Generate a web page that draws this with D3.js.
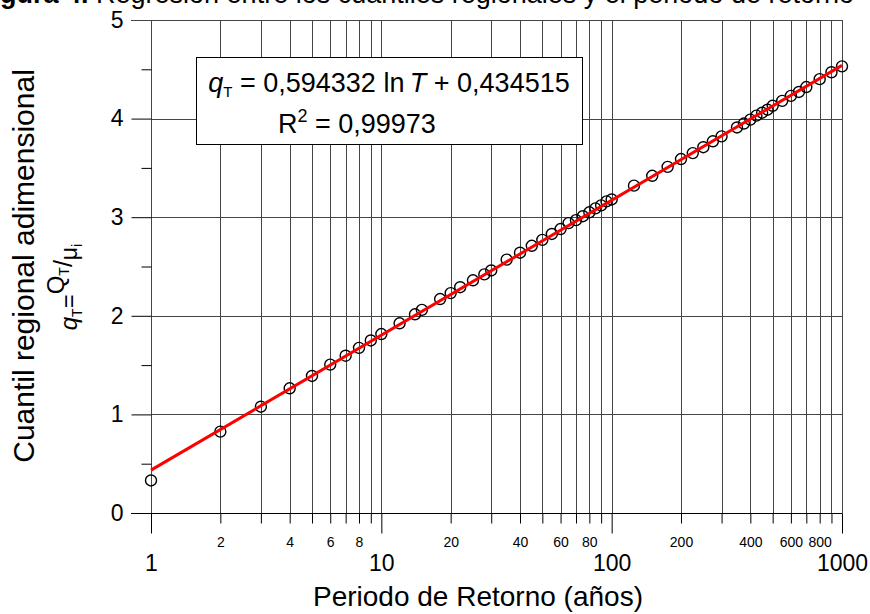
<!DOCTYPE html>
<html>
<head>
<meta charset="utf-8">
<script src="https://cdn.jsdelivr.net/npm/d3@7"></script>
<style>
  body { margin: 0; background: #fff; }
  svg { display: block; font-family: "Liberation Sans", Arial, sans-serif; }
</style>
</head>
<body>
<div id="chart"></div>
<script>
// return periods (years) and regional dimensionless quantiles
const periods = [1, 2, 3, 4, 5, 6, 7, 8, 9, 10, 12, 14, 15, 18, 20, 22, 25, 28, 30, 35,
  40, 45, 50, 55, 60, 65, 70, 75, 80, 85, 90, 95, 100, 125, 150, 175, 200, 225, 250, 275,
  300, 350, 375, 400, 425, 450, 475, 500, 550, 600, 650, 700, 800, 900, 1000];
const quantiles = [0.33, 0.825, 1.078, 1.265, 1.39, 1.505, 1.595, 1.675, 1.75, 1.815, 1.924, 2.015, 2.06, 2.17, 2.23, 2.29, 2.36, 2.42, 2.46, 2.57,
  2.64, 2.71, 2.77, 2.83, 2.88, 2.94, 2.97, 3.01, 3.05, 3.09, 3.12, 3.16, 3.18, 3.32, 3.42, 3.51, 3.59, 3.65, 3.71, 3.77,
  3.82, 3.91, 3.95, 3.99, 4.03, 4.06, 4.09, 4.13, 4.18, 4.23, 4.27, 4.32, 4.40, 4.47, 4.53];

// regression line end points
const fitT = [1, 1000];
const fitQ = [0.4345, 4.54];

const majorYears = [1, 10, 100, 1000];
const minorYears = [2, 3, 4, 5, 6, 7, 8, 9, 20, 30, 40, 50, 60, 70, 80, 90,
  200, 300, 400, 500, 600, 700, 800, 900];
const minorLabels = [2, 4, 6, 8, 20, 40, 60, 80, 200, 400, 600, 800];
const yMajor = [0, 1, 2, 3, 4, 5];
const yMinor = [0.5, 1.5, 2.5, 3.5, 4.5];

const width = 870, height = 614;
const plotL = 151, plotR = 842, plotT = 20, plotB = 513;

const svg = d3.select('#chart').append('svg')
  .attr('width', width)
  .attr('height', height);

const x = d3.scaleLog().domain([1, 1000]).range([plotL, plotR]);
const y = d3.scaleLinear().domain([0, 5]).range([plotB, plotT]);

// caption, cut off at the top as in the original scan
svg.append('text')
  .attr('x', -24)
  .attr('y', 3)
  .style('font-size', '27px')
  .call(t => {
    t.append('tspan').style('font-weight', 'bold').text('Figura 4.');
    t.append('tspan').text(' Regresión entre los cuantiles regionales y el periodo de retorno');
  });

// grid
const grid = svg.append('g').attr('stroke', '#454545').attr('stroke-width', 1);
grid.selectAll('.vg')
  .data(minorYears.concat(majorYears))
  .join('line')
  .attr('x1', d => Math.round(x(d)) + 0.5)
  .attr('x2', d => Math.round(x(d)) + 0.5)
  .attr('y1', plotT)
  .attr('y2', plotB);
grid.selectAll('.hg')
  .data([1, 2, 3, 4])
  .join('line')
  .attr('x1', plotL)
  .attr('x2', plotR)
  .attr('y1', d => Math.round(y(d)) + 0.5)
  .attr('y2', d => Math.round(y(d)) + 0.5);

// y axis
const yAxisMajor = d3.axisLeft(y).tickValues(yMajor).tickSize(20).tickPadding(8).tickFormat(d3.format('d'));
const yAxisMinor = d3.axisLeft(y).tickValues(yMinor).tickSize(10).tickFormat('');
svg.append('g').attr('transform', `translate(${plotL + 0.5},0)`).call(yAxisMinor)
  .call(g => g.select('.domain').remove());
svg.append('g').attr('transform', `translate(${plotL + 0.5},0)`).call(yAxisMajor)
  .call(g => g.select('.domain').remove())
  .call(g => g.selectAll('text').style('font-size', '23px').attr('fill', '#000'));

// x axis
const xAxisMinor = d3.axisBottom(x).tickValues(minorYears).tickSize(10).tickPadding(14)
  .tickFormat(d => minorLabels.includes(d) ? d : '');
const xAxisMajor = d3.axisBottom(x).tickValues(majorYears).tickSize(20).tickPadding(21).tickFormat(d3.format('d'));
svg.append('g').attr('transform', `translate(0,${plotB + 0.5})`).call(xAxisMinor)
  .call(g => g.select('.domain').remove())
  .call(g => g.selectAll('text').style('font-size', '14px').attr('fill', '#000'));
svg.append('g').attr('transform', `translate(0,${plotB + 0.5})`).call(xAxisMajor)
  .call(g => g.select('.domain').remove())
  .call(g => g.selectAll('text').style('font-size', '23px').attr('fill', '#000'));

// frame lines: x axis at 0 and top at 5 (both run out over the y tick)
svg.append('line').attr('x1', plotL - 20).attr('x2', plotR + 0.5)
  .attr('y1', plotB + 0.5).attr('y2', plotB + 0.5).attr('stroke', '#000');
svg.append('line').attr('x1', plotL - 20).attr('x2', plotR + 0.5)
  .attr('y1', plotT + 0.5).attr('y2', plotT + 0.5).attr('stroke', '#454545');

// observed quantiles
svg.append('g').selectAll('circle')
  .data(periods.map((T, i) => ({ T, q: quantiles[i] })))
  .join('circle')
  .attr('cx', d => x(d.T))
  .attr('cy', d => y(d.q))
  .attr('r', 5.5)
  .attr('fill', 'none')
  .attr('stroke', '#000')
  .attr('stroke-width', 1.4);

// fitted line
const line = d3.line().x(d => x(d.T)).y(d => y(d.q));
svg.append('path')
  .datum(fitT.map((T, i) => ({ T, q: fitQ[i] })))
  .attr('d', line)
  .attr('fill', 'none')
  .attr('stroke', '#ff0000')
  .attr('stroke-width', 3);

// equation box
svg.append('rect')
  .attr('x', 196.5).attr('y', 57.5)
  .attr('width', 386).attr('height', 87)
  .attr('fill', '#fff').attr('stroke', '#000');

svg.append('text')
  .attr('x', 389).attr('y', 92)
  .attr('text-anchor', 'middle')
  .style('font-size', '27px')
  .call(t => {
    t.append('tspan').style('font-style', 'italic').text('q');
    t.append('tspan').attr('dy', 5).style('font-size', '15px').text('T');
    t.append('tspan').attr('dy', -5).text(' = 0,594332 ln\u2009');
    t.append('tspan').style('font-style', 'italic').text('T');
    t.append('tspan').text(' + 0,434515');
  });

svg.append('text')
  .attr('x', 278).attr('y', 133)
  .style('font-size', '27px')
  .call(t => {
    t.append('tspan').text('R');
    t.append('tspan').attr('dy', -11).style('font-size', '18px').text('2');
    t.append('tspan').attr('dy', 11).text(' = 0,99973');
  });

// y title
svg.append('text')
  .attr('transform', 'translate(34,266) rotate(-90)')
  .attr('text-anchor', 'middle')
  .style('font-size', '30px')
  .text('Cuantil regional adimensional');

svg.append('text')
  .attr('transform', 'translate(77,287) rotate(-90)')
  .attr('text-anchor', 'middle')
  .style('font-size', '24px')
  .call(t => {
    t.append('tspan').style('font-style', 'italic').text('q');
    t.append('tspan').attr('dy', 5).style('font-size', '14px').text('T');
    t.append('tspan').attr('dy', -5).text('=');
    t.append('tspan').attr('dy', -13).style('font-size', '24px').text('Q');
    t.append('tspan').attr('dy', 5).style('font-size', '14px').text('T');
    t.append('tspan').attr('dy', 3).style('font-size', '25px').text('/');
    t.append('tspan').attr('dy', 5).style('font-size', '23px').text('\u03bc');
    t.append('tspan').attr('dy', 5).style('font-size', '14px').text('i');
  });

// x title
svg.append('text')
  .attr('x', 478)
  .attr('y', 606)
  .attr('text-anchor', 'middle')
  .style('font-size', '28px')
  .text('Periodo de Retorno (años)');
</script>
</body>
</html>
